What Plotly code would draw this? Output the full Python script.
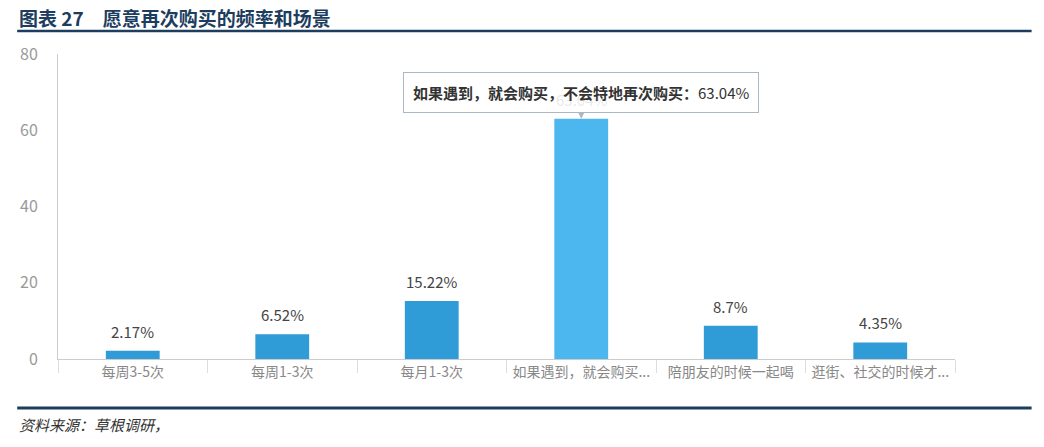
import plotly.graph_objects as go

# survey data: how often / in which situation people would buy again
categories = ['每周3-5次', '每周1-3次', '每月1-3次', '如果遇到，就会购买...', '陪朋友的时候一起喝', '逛街、社交的时候才...']
full_names = ['每周3-5次', '每周1-3次', '每月1-3次', '如果遇到，就会购买，不会特地再次购买',
              '陪朋友的时候一起喝', '逛街、社交的时候才会购买']
values = [2.17, 6.52, 15.22, 63.04, 8.7, 4.35]
value_labels = ['2.17%', '6.52%', '15.22%', '63.04%', '8.7%', '4.35%']
highlight = 3

FONT = 'Noto Sans CJK SC'
NAVY = '#1d3d5e'

bar_colors = ['#2f9bd7'] * len(values)
bar_colors[highlight] = '#4cb6ef'

fig = go.Figure()

fig.add_bar(
    x=categories,
    y=values,
    width=0.36,
    marker=dict(color=bar_colors, line=dict(width=0)),
    hovertext=full_names,
    hoverinfo='text+y',
)

# value labels above the bars
for cat, val, lab in zip(categories, values, value_labels):
    fig.add_annotation(
        x=cat, y=val, text=lab, showarrow=False,
        yanchor='bottom', yshift=7,
        font=dict(family=FONT, size=15, color='#444444'),
    )

# the tooltip box on the highlighted bar (label underneath shows through a bit)
fig.add_annotation(
    x=categories[highlight], y=values[highlight],
    text=f'<b>{full_names[highlight]}：</b>{value_labels[highlight]}',
    showarrow=True, ax=0, ay=-26,
    arrowhead=2, arrowsize=1.2, arrowwidth=1, arrowcolor='#a9b8c4', standoff=0,
    bgcolor='rgba(255,255,255,0.88)', bordercolor='#a9b8c4', borderwidth=1, borderpad=9,
    font=dict(family=FONT, size=15, color='#333333'),
)

# report header / footer
fig.add_annotation(
    xref='paper', yref='paper', x=-0.0455, y=1.121, xanchor='left', yanchor='middle',
    text='<b>图表 27\u2003愿意再次购买的频率和场景</b>', showarrow=False,
    font=dict(family=FONT, size=19, color=NAVY),
)
fig.add_annotation(
    xref='paper', yref='paper', x=-0.0455, y=-0.216, xanchor='left', yanchor='middle',
    text='<i>资料来源：草根调研，</i>', showarrow=False,
    font=dict(family=FONT, size=15, color='#333333'),
)
fig.add_shape(type='line', xref='paper', yref='paper', x0=-0.0455, x1=1.0854, y0=1.0754, y1=1.0754,
              line=dict(color=NAVY, width=2.5))
fig.add_shape(type='line', xref='paper', yref='paper', x0=-0.0455, x1=1.0854, y0=-0.1607, y1=-0.1607,
              line=dict(color=NAVY, width=3))

# page body adds ~8px offset, so the figure is a bit smaller than the window
fig.update_layout(
    width=1036, height=439,
    margin=dict(l=45, r=89, t=46, b=88),
    paper_bgcolor='white', plot_bgcolor='white',
    showlegend=False,
    font=dict(family=FONT),
)

fig.update_xaxes(
    type='category',
    showline=True, linecolor='#cccccc', linewidth=1,
    ticks='outside', tickson='boundaries', ticklen=13, tickcolor='#dddddd',
    tickfont=dict(family=FONT, size=14, color='#888888'),
    showgrid=False,
)
fig.update_yaxes(
    range=[0, 80], tickvals=[0, 20, 40, 60, 80],
    showline=True, linecolor='#cccccc', linewidth=1,
    showgrid=False, zeroline=False,
    ticks='', ticklabelstandoff=16,
    tickfont=dict(family=FONT, size=16, color='#999999'),
)

fig.write_html("out.html")
